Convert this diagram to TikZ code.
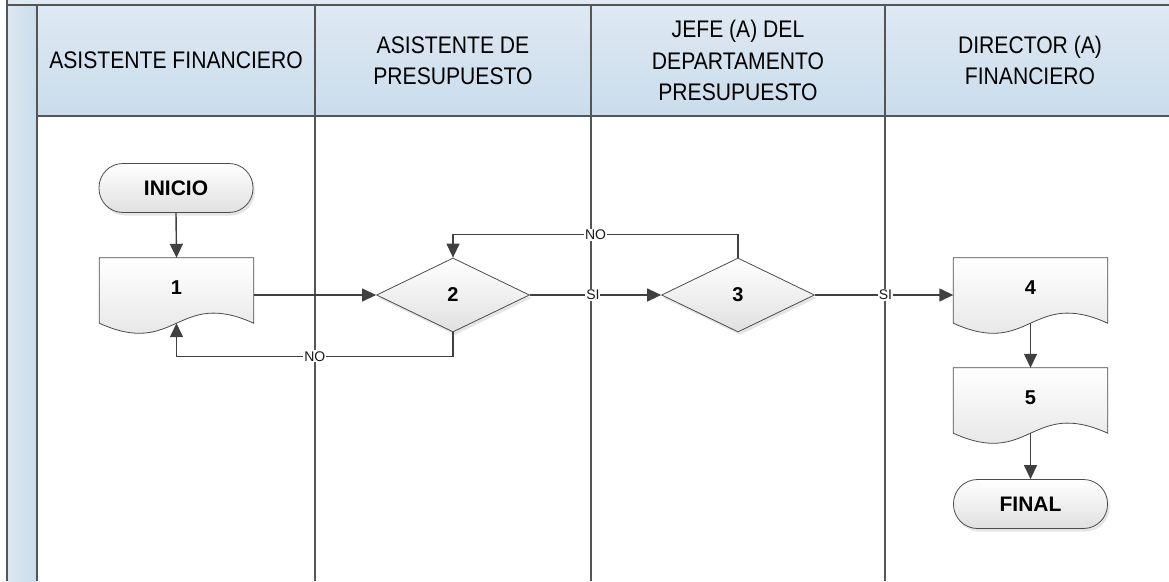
\documentclass[tikz,border=0pt]{standalone}
\usepackage{fontspec}
\setmainfont{Liberation Sans}
\newfontfamily\hdrfont[FakeStretch=0.88]{Liberation Sans}
\usetikzlibrary{arrows.meta,shapes.geometric,shadows}
\definecolor{framec}{HTML}{555555}
\definecolor{connc}{HTML}{404040}
\definecolor{hdrtop}{HTML}{DEE9F3}
\definecolor{hdrbot}{HTML}{CADCEB}
\definecolor{striplt}{HTML}{DDE8F2}
\definecolor{stripdk}{HTML}{CADCEB}
\definecolor{nodebot}{HTML}{E0E0E0}
\pgfdeclarelayer{bg}
\pgfdeclarelayer{mid}
\pgfsetlayers{bg,mid,main}
\begin{document}
\begin{tikzpicture}[x=1pt,y=1pt,
 lane/.style={draw=framec, line width=1.8pt},
 hdr/.style={font=\hdrfont\fontsize{24}{31.5}\selectfont, align=center, text=black},
 arr/.style={draw=connc, line width=1.4pt, -{Triangle[length=14pt,width=13pt]}},
 lbl/.style={fill=white, font=\fontsize{14}{16}\selectfont, inner sep=1pt, text=black!90},
 softshadow/.style={drop shadow={shadow xshift=2pt, shadow yshift=-3pt, opacity=0.10, fill=black}},
 shapefill/.style={draw=black!70, line width=0.8pt, top color=white, bottom color=nodebot},
 docnode/.style={minimum width=154pt, minimum height=65pt, inner sep=0pt, font=\bfseries\fontsize{20}{22}\selectfont},
 decnode/.style={diamond, shapefill, softshadow, minimum width=153pt, minimum height=74pt, inner sep=0pt, font=\bfseries\fontsize{20}{22}\selectfont},
 termnode/.style={shapefill, softshadow, rounded corners=24pt, minimum width=154pt, minimum height=49pt, inner sep=0pt, font=\bfseries\fontsize{21}{24}\selectfont},
]
\useasboundingbox (0,0) rectangle (1169,-581);

\begin{pgfonlayer}{bg}
 \fill[hdrtop] (7,0) rectangle (1169,-5);
 \shade[top color=hdrtop, bottom color=hdrbot] (37,-5) rectangle (1169,-116);
 \shade[left color=striplt, right color=stripdk] (7,-5) rectangle (37,-581);
 \draw[lane] (7,0) -- (7,-581);
 \draw[lane] (37,-5) -- (37,-581);
 \draw[lane] (7,-5) -- (1169,-5);
 \draw[lane] (37,-116) -- (1169,-116);
 \draw[lane] (315,-5) -- (315,-581);
 \draw[lane] (591,-5) -- (591,-581);
 \draw[lane] (885,-5) -- (885,-581);
\end{pgfonlayer}

\node[hdr] (h1) at (176,-60.5) {ASISTENTE FINANCIERO};
\node[hdr] (h2) at (453,-60.5) {ASISTENTE DE\\PRESUPUESTO};
\node[hdr] (h3) at (738,-60.5) {JEFE (A) DEL\\DEPARTAMENTO\\PRESUPUESTO};
\node[hdr] (h4) at (1030,-60.5) {DIRECTOR (A)\\FINANCIERO};

\node[termnode] (ini) at (176,-188) {INICIO};
\node[docnode] (d1) at (176.5,-290.5) {\raisebox{5pt}{1}};
\node[decnode] (d2) at (453,-295) {2};
\node[decnode] (d3) at (738,-295) {3};
\node[docnode] (d4) at (1030.5,-290.5) {\raisebox{5pt}{4}};
\node[docnode] (d5) at (1030.5,-400.5) {\raisebox{5pt}{5}};
\node[termnode] (fin) at (1030.5,-504) {FINAL};

\begin{pgfonlayer}{mid}
 \foreach \d in {d1,d4,d5}{
  \fill[black, opacity=0.10, shift={(2pt,-3pt)}] (\d.north west) -- (\d.north east) -- (\d.south east)
    .. controls +(-77,35) and +(77,-35) .. (\d.south west) -- cycle;
  \path[shapefill] (\d.north west) -- (\d.north east) -- (\d.south east)
    .. controls +(-77,35) and +(77,-35) .. (\d.south west) -- cycle;
 }
\end{pgfonlayer}

\draw[arr] (ini.south) -- (d1.north);
\draw[arr] (d1.east |- d2.west) -- (d2.west);
\draw[arr] (d2.east) -- node[lbl,pos=0.48]{SI} (d3.west);
\draw[arr] (d3.east) -- node[lbl,pos=0.51]{SI} (d3.east -| d4.west);
\draw[arr] (d2.south) -- ++(0,-24) -| node[lbl,pos=0.25]{NO} (d1.south);
\draw[arr] (d3.north) -- ++(0,23) -| node[lbl,pos=0.25]{NO} (d2.north);
\draw[arr] (d4.south) -- (d5.north);
\draw[arr] (d5.south) -- (fin.north);
\end{tikzpicture}
\end{document}
